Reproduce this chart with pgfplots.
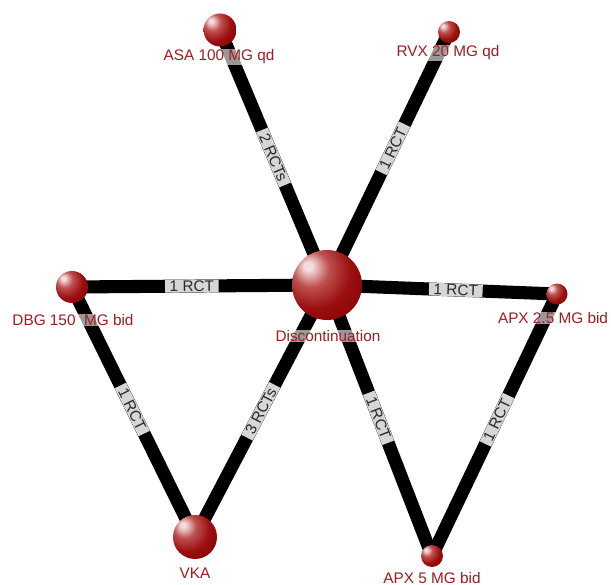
\documentclass[border=0pt]{standalone}
\usepackage{fontspec}
\setmainfont{Liberation Sans}
\usepackage{pgfplots}
\usepackage{pgfplotstable}
\pgfplotsset{compat=1.18}
\definecolor{labred}{RGB}{160,28,32}
\definecolor{elabbg}{RGB}{214,214,214}
\definecolor{elabtx}{RGB}{40,40,40}
\definecolor{sphW}{RGB}{245,220,220}
\definecolor{sphL}{RGB}{190,80,80}
\definecolor{sphM}{RGB}{155,15,15}
\definecolor{sphD}{RGB}{128,0,0}
\pgfdeclareradialshading{sphere}{\pgfpoint{-14bp}{14bp}}{color(0bp)=(sphW); color(3bp)=(sphW); color(13bp)=(sphL); color(26bp)=(sphM); color(44bp)=(sphD); color(80bp)=(sphD)}

\pgfplotstableread[col sep=comma]{
x,y,r
220,30,16.5
449,32,11
327,285,35
72,287,16
557,294,10.5
195,537,22
432,556,11
}\spheres

\pgfplotstableread[col sep=comma]{
x,y,label
219,57,ASA 100 MG qd
448,53,RVX 20 MG qd
328,336,Discontinuation
73,320,DBG 150\ \ MG bid
553,318,APX 2.5 MG bid
195,573,VKA
432,578,APX 5 MG bid
}\labels

\tikzset{elab/.style={sloped, fill=elabbg, text=elabtx, inner xsep=3.5pt, inner ysep=0pt, minimum height=9.5pt, font=\fontsize{11.5}{12}\selectfont}}

\begin{document}
\begin{tikzpicture}
\begin{axis}[
  width=458.25pt, height=438.75pt, scale only axis,
  xmin=0, xmax=611, ymin=0, ymax=585, y dir=reverse,
  hide axis, clip=false,
]
\addplot[black, line width=9.8pt, line cap=butt] coordinates {(220,30) (327,285)} node[pos=0.5, elab] {2 RCTs};
\addplot[black, line width=9.8pt, line cap=butt] coordinates {(449,32) (327,285)} node[pos=0.46, elab] {1 RCT};
\addplot[black, line width=9.8pt, line cap=butt] coordinates {(72,287) (327,285)} node[pos=0.47, elab] {1 RCT};
\addplot[black, line width=9.8pt, line cap=butt] coordinates {(327,285) (557,294)} node[pos=0.56, elab] {1 RCT};
\addplot[black, line width=9.8pt, line cap=butt] coordinates {(72,287) (195,537)} node[pos=0.49, elab] {1 RCT};
\addplot[black, line width=9.8pt, line cap=butt] coordinates {(327,285) (195,537)} node[pos=0.50, elab] {3 RCTs};
\addplot[black, line width=9.8pt, line cap=butt] coordinates {(327,285) (432,556)} node[pos=0.49, elab] {1 RCT};
\addplot[black, line width=9.8pt, line cap=butt] coordinates {(557,294) (432,556)} node[pos=0.48, elab] {1 RCT};

\addplot[only marks, mark=none, point meta=\thisrow{r},
  visualization depends on={\thisrow{r}\as\rad},
  nodes near coords={},
  every node near coord/.style={anchor=center, circle, shading=sphere, inner sep=0pt, minimum size={1.5*\rad pt}}]
  table[x=x, y=y] {\spheres};

\addplot[only marks, mark=none, point meta=explicit symbolic,
  nodes near coords,
  every node near coord/.style={anchor=center, text=labred, fill=white, fill opacity=0.6, text opacity=1, inner sep=0.5pt, font=\fontsize{11.5}{12}\selectfont}]
  table[x=x, y=y, meta=label] {\labels};
\end{axis}
\pgfresetboundingbox
\path (current axis.south west) rectangle (current axis.north east);
\end{tikzpicture}
\end{document}
